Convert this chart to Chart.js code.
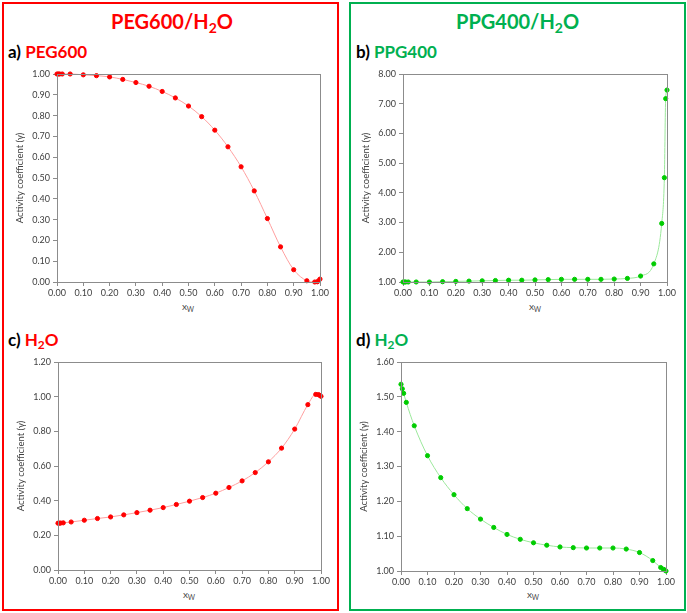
<!DOCTYPE html>
<html>
<head>
<meta charset="utf-8">
<script src="https://cdn.jsdelivr.net/npm/chart.js@4.4.0/dist/chart.umd.min.js"></script>
<style>
  html, body { margin:0; padding:0; background:#fff; width:687px; height:613px; overflow:hidden; font-family: Lato, "Open Sans", sans-serif; }
  .box { position:absolute; box-sizing:border-box; border:2px solid; }
  .head { position:absolute; font-weight:bold; white-space:nowrap; }
  .cv { position:absolute; }
  .xt { position:absolute; font-size:10px; color:#4a4a4a; width:40px; text-align:center; }
  sub { font-size:0.7em; vertical-align:-0.25em; line-height:0; }
</style>
</head>
<body>
<div class="box" style="left:2px;top:2px;width:337px;height:609px;border-color:#ff0000;"></div>
<div class="box" style="left:349px;top:2px;width:337px;height:609px;border-color:#00b050;"></div>

<div class="head" style="left:111px;top:9px;font-size:20px;color:#ff0000;">PEG600/H<sub>2</sub>O</div>
<div class="head" style="left:456px;top:9px;font-size:20px;color:#00b050;">PPG400/H<sub>2</sub>O</div>
<div class="head" style="left:8px;top:41px;font-size:17px;color:#000;">a) <span style="color:#ff0000">PEG600</span></div>
<div class="head" style="left:356px;top:41px;font-size:17px;color:#000;">b) <span style="color:#00b050">PPG400</span></div>
<div class="head" style="left:8px;top:329px;font-size:17px;color:#000;">c) <span style="color:#ff0000">H<sub>2</sub>O</span></div>
<div class="head" style="left:356px;top:329px;font-size:17px;color:#000;">d) <span style="color:#00b050">H<sub>2</sub>O</span></div>

<canvas id="ca" class="cv" style="left:10px;top:64px;" width="325" height="232"></canvas>
<canvas id="cb" class="cv" style="left:356px;top:64px;" width="326" height="232"></canvas>
<canvas id="cc" class="cv" style="left:11px;top:352px;" width="325" height="232"></canvas>
<canvas id="cd" class="cv" style="left:354px;top:352px;" width="327" height="233"></canvas>

<div class="xt" style="left:168px;top:300px;">x<sub>W</sub></div>
<div class="xt" style="left:515px;top:300px;">x<sub>W</sub></div>
<div class="xt" style="left:169px;top:588px;">x<sub>W</sub></div>
<div class="xt" style="left:513px;top:588px;">x<sub>W</sub></div>

<script>
// mole fraction of water
const xW = [0, 0.005, 0.01, 0.02, 0.05, 0.10, 0.15, 0.20, 0.25, 0.30, 0.35, 0.40, 0.45, 0.50,
            0.55, 0.60, 0.65, 0.70, 0.75, 0.80, 0.85, 0.90, 0.95, 0.98, 0.99, 0.995, 1.00];
// a) PEG600 activity coefficient in PEG600/H2O
const gammaPEG600 = [1.000, 1.000, 1.000, 1.000, 1.000, 0.996, 0.992, 0.986, 0.974, 0.959, 0.941, 0.916, 0.885, 0.846,
                     0.795, 0.730, 0.650, 0.554, 0.438, 0.305, 0.169, 0.059, 0.006, 0.000, 0.001, 0.006, 0.014];
// b) PPG400 activity coefficient in PPG400/H2O
const gammaPPG400 = [1.00, 1.00, 1.00, 1.00, 1.00, 1.00, 1.01, 1.02, 1.03, 1.04, 1.05, 1.06, 1.06, 1.07,
                     1.08, 1.09, 1.09, 1.09, 1.09, 1.10, 1.12, 1.20, 1.61, 2.97, 4.51, 7.17, 7.46];
// c) H2O activity coefficient in PEG600/H2O
const gammaH2O_PEG = [0.270, 0.270, 0.271, 0.272, 0.277, 0.287, 0.297, 0.306, 0.318, 0.331, 0.345, 0.360, 0.378, 0.397,
                      0.418, 0.443, 0.476, 0.514, 0.562, 0.624, 0.703, 0.813, 0.954, 1.013, 1.012, 1.008, 1.002];
// d) H2O activity coefficient in PPG400/H2O
const gammaH2O_PPG = [1.536, 1.523, 1.510, 1.484, 1.417, 1.331, 1.268, 1.219, 1.179, 1.149, 1.125, 1.105, 1.091, 1.081,
                      1.074, 1.069, 1.067, 1.066, 1.066, 1.066, 1.063, 1.053, 1.030, 1.010, 1.005, 1.003, 1.000];

const xTicks = [0, 1, 0.1];
const yTitle = 'Activity coefficient (γ)';

const frame = {
  id: 'frame',
  afterDatasetsDraw(chart) {
    const a = chart.chartArea, c = chart.ctx;
    c.save();
    c.strokeStyle = '#8c8c8c';
    c.lineWidth = 1;
    c.strokeRect(Math.round(a.left) + 0.5, Math.round(a.top) + 0.5, Math.round(a.right - a.left), Math.round(a.bottom - a.top));
    c.restore();
  }
};

function make(id, ys, yMin, yMax, yStep, dot, line) {
  const pts = xW.map((x, i) => ({ x: x, y: ys[i] }));
  const tickFont = { family: 'Lato, "Open Sans", sans-serif', size: 9 };
  new Chart(document.getElementById(id), {
    type: 'scatter',
    data: { datasets: [{
      data: pts, showLine: true, borderColor: line, borderWidth: 1,
      backgroundColor: dot, pointBackgroundColor: dot, pointBorderColor: dot,
      pointRadius: 2.1, pointHoverRadius: 2.1, cubicInterpolationMode: 'monotone', clip: false
    }]},
    options: {
      responsive: false, animation: false,
      layout: { padding: { top: 10, right: 15, bottom: 0, left: 0 } },
      plugins: { legend: { display: false }, tooltip: { enabled: false } },
      scales: {
        x: {
          type: 'linear', min: xTicks[0], max: xTicks[1],
          afterFit(s) { s.height = 14; },
          grid: { drawOnChartArea: false, drawTicks: true, tickLength: 4, color: '#8c8c8c' },
          border: { color: '#8c8c8c' },
          ticks: { stepSize: xTicks[2], color: '#404040', font: tickFont, padding: 2, maxRotation: 0, autoSkip: false,
                   callback: v => v.toFixed(2) }
        },
        y: {
          type: 'linear', min: yMin, max: yMax,
          afterFit(s) { s.width = 47; },
          grid: { drawOnChartArea: false, drawTicks: true, tickLength: 4, color: '#8c8c8c' },
          border: { color: '#8c8c8c' },
          ticks: { stepSize: yStep, color: '#404040', font: tickFont, padding: 3, autoSkip: false,
                   callback: v => v.toFixed(2) },
          title: { display: true, text: yTitle, color: '#404040', font: { family: 'Lato, "Open Sans", sans-serif', size: 9.5 },
                   padding: { top: 4, bottom: 2 } }
        }
      }
    },
    plugins: [frame]
  });
}

make('ca', gammaPEG600, 0, 1.0, 0.1, '#ff0000', '#ff9f9f');
make('cb', gammaPPG400, 1, 8, 1, '#00cc00', '#9be89b');
make('cc', gammaH2O_PEG, 0, 1.2, 0.2, '#ff0000', '#ff9f9f');
make('cd', gammaH2O_PPG, 1.0, 1.6, 0.1, '#00cc00', '#9be89b');
</script>
</body>
</html>
